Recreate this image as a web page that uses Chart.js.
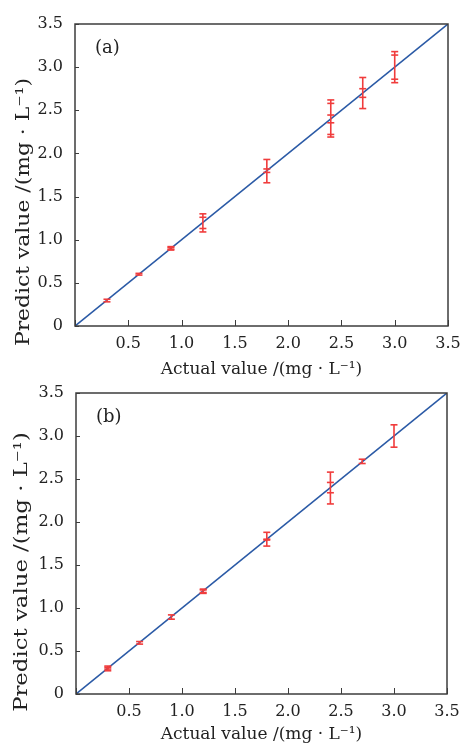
<!DOCTYPE html>
<html>
<head>
<meta charset="utf-8">
<script src="https://cdn.jsdelivr.net/npm/chart.js@4.4.0/dist/chart.umd.min.js"></script>
<style>
  html, body { margin: 0; padding: 0; background: #fff; }
  .panel { position: absolute; left: 0; width: 463px; }
  #wrapA { top: 0; height: 380px; }
  #wrapB { top: 380px; height: 363px; }
</style>
</head>
<body>
<div class="panel" id="wrapA"><canvas id="chartA" width="463" height="380"></canvas></div>
<div class="panel" id="wrapB"><canvas id="chartB" width="463" height="363"></canvas></div>
<script>
// axis ticks (both panels, both axes)
const tickValues = [0, 0.5, 1.0, 1.5, 2.0, 2.5, 3.0, 3.5];
// ideal line y = x
const fitLine = [0, 3.5];

// panel (a): one entry per error bar (several bars can share an x)
const errXA    = [0.3, 0.6, 0.9, 0.9, 1.2, 1.2, 1.8, 1.8, 2.4, 2.4, 2.4, 2.7, 2.7, 3.0, 3.0];
const errLowA  = [0.28, 0.59, 0.88, 0.89, 1.09, 1.13, 1.66, 1.78, 2.19, 2.22, 2.355, 2.52, 2.65, 2.82, 2.86];
const errHighA = [0.31, 0.61, 0.92, 0.91, 1.30, 1.26, 1.93, 1.82, 2.62, 2.58, 2.445, 2.88, 2.75, 3.18, 3.14];

// panel (b)
const errXB    = [0.3, 0.3, 0.6, 0.9, 1.2, 1.2, 1.8, 1.8, 2.4, 2.4, 2.7, 3.0];
const errLowB  = [0.27, 0.29, 0.58, 0.87, 1.17, 1.18, 1.72, 1.79, 2.21, 2.34, 2.68, 2.87];
const errHighB = [0.325, 0.31, 0.61, 0.92, 1.22, 1.21, 1.88, 1.80, 2.58, 2.46, 2.73, 3.13];

const FONT = '"DejaVu Serif", "Liberation Serif", serif';
const INK = '#222';
const RED = '#f03c3c';
const BLUE = '#2b5aa6';

// each bar = two points (low, high) + a null so the line breaks between bars
function errorPoints(xs, lows, highs) {
    const pts = [];
    xs.forEach((x, i) => {
        pts.push({ x: x, y: lows[i] }, { x: x, y: highs[i] }, { x: x, y: null });
    });
    return pts;
}

// box frame, inward ticks, panel letter and y title
const framePlugin = {
    id: 'frame',
    afterDraw(chart, args, opts) {
        const { ctx, chartArea: a, scales } = chart;
        ctx.save();
        ctx.strokeStyle = '#3c3c3c';
        ctx.lineWidth = 1.5;
        ctx.strokeRect(a.left, a.top, a.right - a.left, a.bottom - a.top);

        ctx.lineWidth = 1;
        ctx.beginPath();
        scales.x.ticks.forEach(t => {
            const px = Math.round(scales.x.getPixelForValue(t.value)) + 0.5;
            ctx.moveTo(px, a.bottom);
            ctx.lineTo(px, a.bottom - 6);
        });
        scales.y.ticks.forEach(t => {
            const py = Math.round(scales.y.getPixelForValue(t.value)) + 0.5;
            ctx.moveTo(a.left, py);
            ctx.lineTo(a.left + 4, py);
        });
        ctx.stroke();

        ctx.fillStyle = INK;
        ctx.font = '18px ' + FONT;
        ctx.textBaseline = 'middle';
        ctx.textAlign = 'left';
        ctx.fillText(opts.label, a.left + 20, a.top + 24);

        // y title, stretched along its length like the reference
        ctx.translate(opts.titleX, opts.titleY);
        ctx.rotate(-Math.PI / 2);
        ctx.scale(opts.titleStretch, 1);
        ctx.textAlign = 'center';
        ctx.font = '19px ' + FONT;
        ctx.fillText('Predict value /(mg \u00b7 L\u207b\u00b9)', 0, 0);
        ctx.restore();
    }
};

function noPad(s) {
    s.paddingLeft = 0; s.paddingRight = 0; s.paddingTop = 0; s.paddingBottom = 0;
}

function makeChart(id, xs, lows, highs, cfg) {
    const ctx = document.getElementById(id).getContext('2d');
    return new Chart(ctx, {
        type: 'line',
        data: {
            datasets: [{
                // error bars
                data: errorPoints(xs, lows, highs),
                borderColor: RED,
                borderWidth: 1.6,
                spanGaps: false,
                pointStyle: 'line',
                pointRadius: 3.5,
                pointBorderWidth: 1.6,
                pointBorderColor: RED,
                pointBackgroundColor: RED
            }, {
                // y = x
                data: fitLine.map(v => ({ x: v, y: v })),
                borderColor: BLUE,
                borderWidth: 1.6,
                pointRadius: 0
            }]
        },
        options: {
            responsive: false,
            animation: false,
            layout: { padding: { left: 0, right: cfg.padRight, top: cfg.padTop, bottom: 0 } },
            scales: {
                x: {
                    type: 'linear',
                    min: 0,
                    max: 3.5,
                    afterBuildTicks: s => { s.ticks = tickValues.map(v => ({ value: v })); },
                    afterFit: s => { s.height = cfg.xHeight; noPad(s); },
                    grid: { display: false, drawTicks: false },
                    border: { display: false },
                    ticks: {
                        color: INK,
                        padding: cfg.xTickPad,
                        maxRotation: 0,
                        font: { family: FONT, size: 16 },
                        callback: v => v === 0 ? '' : v.toFixed(1)
                    },
                    title: {
                        display: true,
                        text: 'Actual value /(mg \u00b7 L\u207b\u00b9)',
                        color: INK,
                        font: { family: FONT, size: 17, lineHeight: 1 },
                        padding: { top: 0, bottom: cfg.xTitlePad }
                    }
                },
                y: {
                    type: 'linear',
                    min: 0,
                    max: 3.5,
                    afterBuildTicks: s => { s.ticks = tickValues.map(v => ({ value: v })); },
                    afterFit: s => { s.width = cfg.yWidth; noPad(s); },
                    grid: { display: false, drawTicks: false },
                    border: { display: false },
                    ticks: {
                        color: INK,
                        padding: 12,
                        font: { family: FONT, size: 16 },
                        callback: v => v === 0 ? '0' : v.toFixed(1)
                    }
                }
            },
            plugins: {
                legend: { display: false },
                tooltip: { enabled: false },
                frame: {
                    label: cfg.label, titleX: cfg.titleX, titleY: cfg.titleY,
                    titleStretch: cfg.titleStretch
                }
            }
        },
        plugins: [framePlugin]
    });
}

makeChart('chartA', errXA, errLowA, errHighA, {
    label: '(a)', padTop: 24, padRight: 15, yWidth: 75, xHeight: 54,
    xTickPad: 8, xTitlePad: 1.5, titleX: 24, titleY: 212, titleStretch: 1.15
});
makeChart('chartB', errXB, errLowB, errHighB, {
    label: '(b)', padTop: 13, padRight: 16, yWidth: 76, xHeight: 49,
    xTickPad: 8, xTitlePad: 0, titleX: 22, titleY: 192, titleStretch: 1.2
});
</script>
</body>
</html>
